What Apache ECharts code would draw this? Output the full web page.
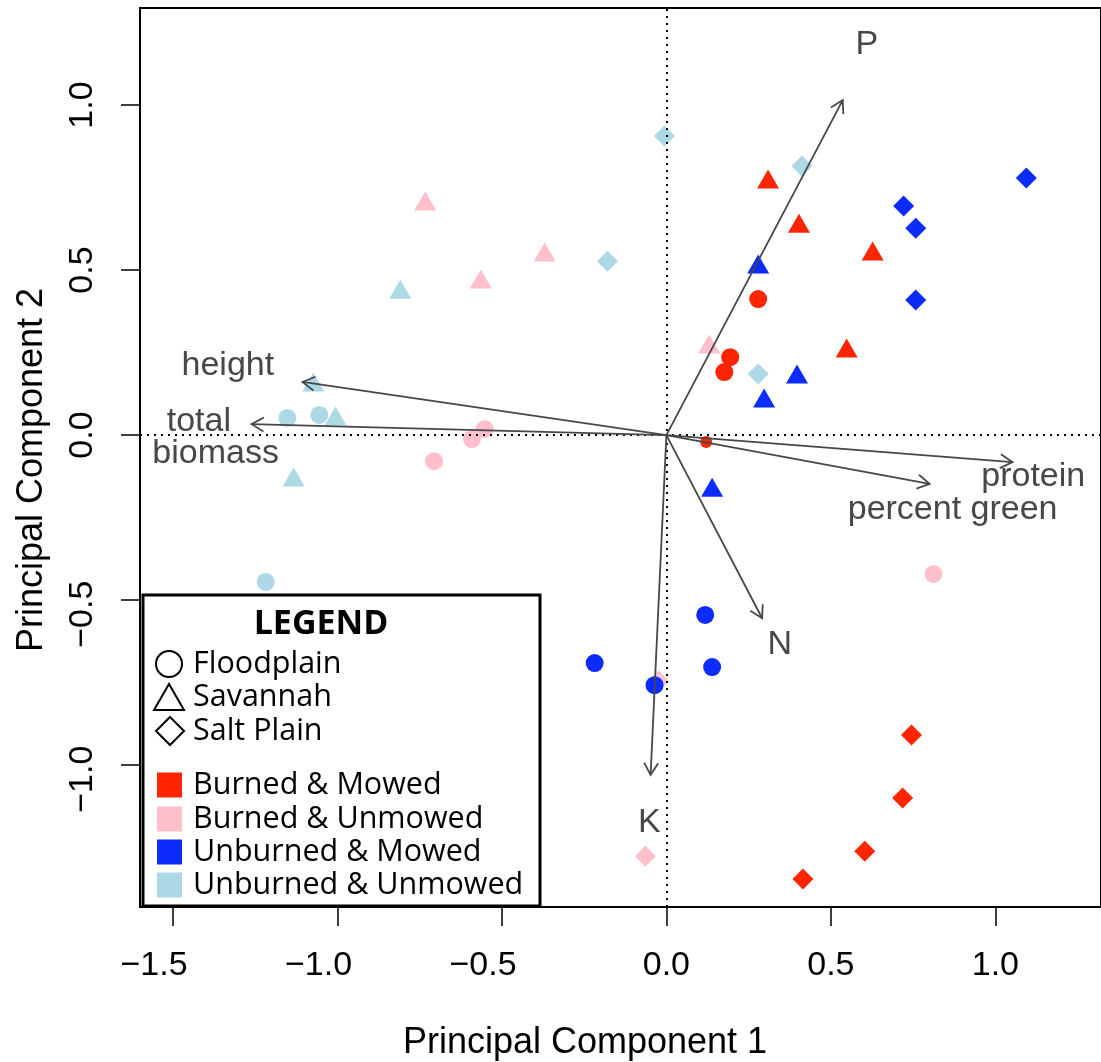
<!DOCTYPE html>
<html>
<head>
<meta charset="utf-8">
<script src="https://cdn.jsdelivr.net/npm/echarts@6/dist/echarts.min.js"></script>
<style>
  html, body { margin: 0; padding: 0; background: #fff; }
  #chart { width: 1101px; height: 1062px; }
</style>
</head>
<body>
<div id="chart"></div>
<script>
// legend categories
var treatments = ['Burned & Mowed', 'Burned & Unmowed', 'Unburned & Mowed', 'Unburned & Unmowed'];
var habitats = ['Floodplain', 'Savannah', 'Salt Plain'];
var treatmentColors = ['#ff2500', '#ffc0cb', '#0b2bff', '#add8e6'];
var habitatSymbols = ['circle', 'triangle', 'diamond'];

// sample scores [PC1, PC2]
var bmFloodplain = [[0.279, 0.412], [0.194, 0.236], [0.176, 0.191]];
var bmFloodplainSmall = [[0.121, -0.021]];
var bmSavannah = [[0.309, 0.776], [0.403, 0.642], [0.627, 0.558], [0.548, 0.264]];
var bmSaltPlain = [[0.745, -0.909], [0.718, -1.100], [0.603, -1.261], [0.415, -1.345]];

var buFloodplain = [[-0.552, 0.018], [-0.591, -0.012], [-0.706, -0.079], [0.812, -0.421]];
var buSavannah = [[-0.733, 0.709], [-0.370, 0.555], [-0.564, 0.473], [0.130, 0.276]];
var buSaltPlain = [[-0.024, -0.745], [-0.064, -1.276]];

var umFloodplain = [[0.118, -0.545], [-0.218, -0.691], [0.139, -0.703], [-0.036, -0.758]];
var umSavannah = [[0.279, 0.518], [0.397, 0.185], [0.297, 0.112], [0.139, -0.158]];
var umSaltPlain = [[1.094, 0.779], [0.721, 0.694], [0.758, 0.627], [0.758, 0.409]];

var uuFloodplain = [[-1.152, 0.052], [-1.055, 0.061], [-1.218, -0.445]];
var uuSavannah = [[-0.809, 0.442], [-1.073, 0.161], [-1.006, 0.058], [-1.133, -0.127]];
var uuSaltPlain = [[-0.006, 0.906], [0.412, 0.815], [-0.179, 0.527], [0.279, 0.185]];

// variable loadings (arrow tips) and their labels
var loadingTips = [[0.536, 1.015], [1.052, -0.082], [0.800, -0.148], [0.291, -0.555],
                   [-0.048, -1.030], [-1.106, 0.161], [-1.261, 0.033]];
var loadingLabels = ['P', 'protein', 'percent green', 'N', 'K', 'height', 'total', 'biomass'];
var loadingLabelSpots = [[0.609, 1.182], [1.115, -0.127], [0.870, -0.227], [0.345, -0.636],
                         [-0.052, -1.173], [-1.333, 0.209], [-1.421, 0.042], [-1.370, -0.055]];

var xTicks = [-1.5, -1.0, -0.5, 0.0, 0.5, 1.0];
var yTicks = [-1.0, -0.5, 0.0, 0.5, 1.0];

var chart = echarts.init(document.getElementById('chart'));

var symbolSizes = { circle: 18, triangle: [22, 19], diamond: [21, 21] };

function pointSeries(data, t, h, size) {
  var sym = habitatSymbols[h];
  return {
    type: 'scatter',
    name: treatments[t] + ' / ' + habitats[h],
    data: data,
    symbol: sym,
    symbolSize: size || symbolSizes[sym],
    itemStyle: { color: treatmentColors[t], opacity: 1 },
    z: 3
  };
}

// R-style minus; negative labels sit a bit toward their start like in the original
function fmtX(v) {
  return v < 0 ? '\u2212' + Math.abs(v).toFixed(1) + '\u00a0\u00a0\u00a0\u00a0' : v.toFixed(1);
}
function fmtY(v) {
  return v < 0 ? '\u2212' + Math.abs(v).toFixed(1) + '\u00a0\u00a0\u00a0' : v.toFixed(1);
}

var series = [
  pointSeries(uuFloodplain, 3, 0), pointSeries(uuSavannah, 3, 1), pointSeries(uuSaltPlain, 3, 2),
  pointSeries(buFloodplain, 1, 0), pointSeries(buSavannah, 1, 1), pointSeries(buSaltPlain, 1, 2),
  pointSeries(bmFloodplain, 0, 0), pointSeries(bmFloodplainSmall, 0, 0, 12),
  pointSeries(bmSavannah, 0, 1), pointSeries(bmSaltPlain, 0, 2),
  pointSeries(umFloodplain, 2, 0), pointSeries(umSavannah, 2, 1), pointSeries(umSaltPlain, 2, 2)
];

// dotted zero lines
series[0].markLine = {
  silent: true,
  symbol: ['none', 'none'],
  label: { show: false },
  lineStyle: { color: '#000', width: 2, type: [2, 5] },
  data: [{ xAxis: 0 }, { yAxis: 0 }]
};

// loading arrows
series.push({
  type: 'custom',
  z: 5,
  data: loadingTips,
  encode: { x: 0, y: 1 },
  renderItem: function (params, api) {
    var o = api.coord([0, 0]);
    var t = api.coord([api.value(0), api.value(1)]);
    var a = Math.atan2(t[1] - o[1], t[0] - o[0]);
    var h = 14, w = Math.PI / 6;
    var p1 = [t[0] - h * Math.cos(a - w), t[1] - h * Math.sin(a - w)];
    var p2 = [t[0] - h * Math.cos(a + w), t[1] - h * Math.sin(a + w)];
    var st = { stroke: '#474747', lineWidth: 1.8, fill: null };
    return {
      type: 'group',
      children: [
        { type: 'line', shape: { x1: o[0], y1: o[1], x2: t[0], y2: t[1] }, style: st },
        { type: 'polyline', shape: { points: [p1, t, p2] }, style: st }
      ]
    };
  }
});

// loading labels
series.push({
  type: 'custom',
  z: 6,
  data: loadingLabelSpots,
  encode: { x: 0, y: 1 },
  renderItem: function (params, api) {
    var p = api.coord([api.value(0), api.value(1)]);
    return {
      type: 'text',
      style: {
        text: loadingLabels[params.dataIndex], x: p[0], y: p[1],
        font: '34px "Liberation Sans"', fill: '#474747',
        textAlign: 'center', textVerticalAlign: 'middle'
      }
    };
  }
});

// legend drawn as graphic
var legendEls = [
  { type: 'rect', shape: { x: 143, y: 595, width: 397, height: 311 },
    style: { fill: '#fff', stroke: '#000', lineWidth: 3 } },
  { type: 'text', style: { text: 'LEGEND', x: 321, y: 624, font: 'bold 34px "Open Sans"',
    fill: '#000', textAlign: 'center', textVerticalAlign: 'middle' } }
];
var habitatRows = [664, 697, 731];
var treatmentRows = [785, 819, 852, 885];
legendEls.push({ type: 'circle', shape: { cx: 169, cy: habitatRows[0], r: 13 },
  style: { fill: null, stroke: '#000', lineWidth: 2 } });
legendEls.push({ type: 'polygon', shape: { points: [[154, habitatRows[1] + 13], [184, habitatRows[1] + 13], [169, habitatRows[1] - 13]] },
  style: { fill: null, stroke: '#000', lineWidth: 2 } });
legendEls.push({ type: 'polygon', shape: { points: [[170, habitatRows[2] - 14], [184, habitatRows[2]], [170, habitatRows[2] + 14], [156, habitatRows[2]]] },
  style: { fill: null, stroke: '#000', lineWidth: 2 } });
habitats.forEach(function (h, i) {
  legendEls.push({ type: 'text', style: { text: h, x: 193, y: habitatRows[i], font: '30.5px "Open Sans"',
    fill: '#000', textAlign: 'left', textVerticalAlign: 'middle' } });
});
treatments.forEach(function (t, i) {
  legendEls.push({ type: 'rect', shape: { x: 157, y: treatmentRows[i] - 12.5, width: 25, height: 25 },
    style: { fill: treatmentColors[i] } });
  legendEls.push({ type: 'text', style: { text: t, x: 193, y: treatmentRows[i], font: '30.5px "Open Sans"',
    fill: '#000', textAlign: 'left', textVerticalAlign: 'middle' } });
});
legendEls.forEach(function (e) { e.z = 100; });

// axis titles
legendEls.push({ type: 'text', x: 585, y: 1043, z: 100,
  style: { text: 'Principal Component 1', x: 0, y: 0, font: '36px "Liberation Sans"', fill: '#000',
    textAlign: 'center', textVerticalAlign: 'middle' } });
legendEls.push({ type: 'text', x: 32, y: 470, rotation: Math.PI / 2, z: 100,
  style: { text: 'Principal Component 2', x: 0, y: 0, font: '36px "Liberation Sans"', fill: '#000',
    textAlign: 'center', textVerticalAlign: 'middle' } });

var option = {
  animation: false,
  backgroundColor: '#fff',
  grid: { left: 140, top: 8, right: -3, bottom: 155, show: true, borderColor: '#000', borderWidth: 2 },
  xAxis: {
    type: 'value', min: -1.6, max: 1.321,
    axisLine: { show: false, onZero: false },
    splitLine: { show: false },
    axisTick: { show: true, length: 19, customValues: xTicks, lineStyle: { color: '#000', width: 1.5 } },
    axisLabel: { customValues: xTicks, formatter: fmtX, margin: 42, color: '#000',
      fontFamily: 'Liberation Sans', fontSize: 34 }
  },
  yAxis: {
    type: 'value', min: -1.43, max: 1.294,
    axisLine: { show: false, onZero: false },
    splitLine: { show: false },
    axisTick: { show: true, length: 19, customValues: yTicks, lineStyle: { color: '#000', width: 1.5 } },
    axisLabel: { customValues: yTicks, formatter: fmtY, margin: 40, rotate: 90, color: '#000',
      fontFamily: 'Liberation Sans', fontSize: 34 }
  },
  graphic: legendEls,
  series: series
};

chart.setOption(option);
</script>
</body>
</html>
